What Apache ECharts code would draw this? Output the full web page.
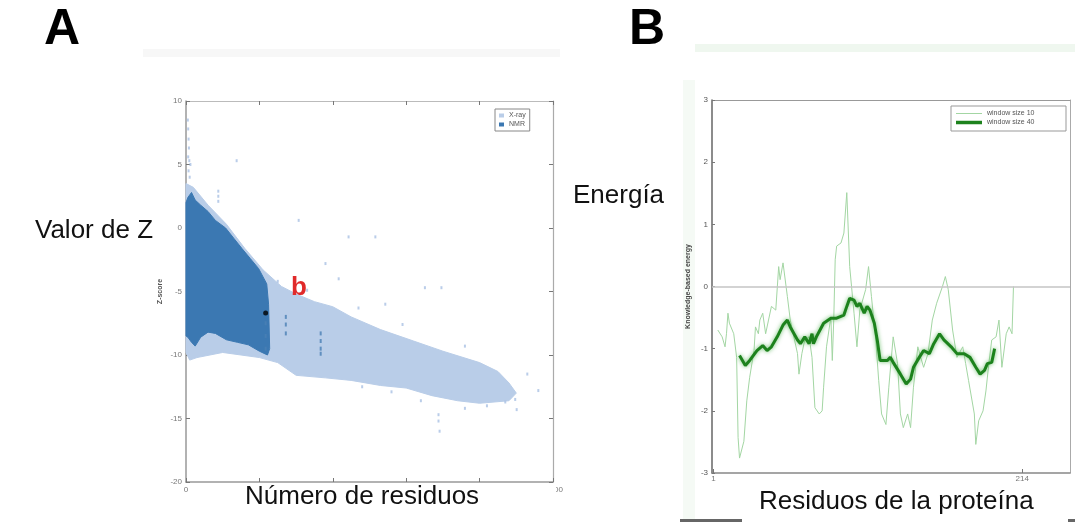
<!DOCTYPE html>
<html>
<head>
<meta charset="utf-8">
<script src="https://cdn.jsdelivr.net/npm/echarts@6/dist/echarts.min.js"></script>
<style>
html,body{margin:0;padding:0;background:#fff;}
#c{width:1075px;height:529px;}
</style>
</head>
<body>
<div id="c"></div>
<script>
// ---------- Panel A data (Z-score vs number of residues) ----------
const xAxisTicksA = [0, 200, 400, 600, 800, 1000];
const yAxisTicksA = [-20, -15, -10, -5, 0, 5, 10];
// outline of the X-ray point cloud [residues, z]
const xrayCloud = [
  [0, 3.5], [20, 3.2], [60, 1.8], [110, 0.3], [160, -1.6], [210, -3.3], [260, -4.6],
  [300, -5.2], [350, -5.8], [400, -6.2], [450, -7.0], [530, -8.0], [620, -8.9],
  [700, -9.7], [800, -10.6], [850, -11.3], [880, -12.2], [900, -13.0],
  [880, -13.6], [800, -13.8], [740, -13.6], [670, -13.2], [600, -12.6], [530, -12.4],
  [450, -12.0], [380, -11.8], [300, -11.6], [250, -10.6], [200, -10.2], [100, -9.8],
  [30, -10.2], [10, -10.4], [0, -9.8]
];
// outline of the NMR point cloud [residues, z]
const nmrCloud = [
  [0, 2.0], [5, 2.4], [15, 2.8], [25, 2.2], [40, 1.8], [60, 1.3], [80, 0.6], [108, 0.0],
  [130, -0.8], [152, -1.6], [175, -2.4], [198, -3.2], [220, -4.4], [225, -6.0],
  [228, -9.5], [222, -10.0], [200, -9.7], [170, -9.2], [140, -9.0], [110, -8.8],
  [80, -8.3], [60, -8.2], [40, -8.6], [25, -9.3], [15, -9.0], [5, -8.6], [0, -8.5]
];
// isolated X-ray points
const xrayOutliers = [
  [5, 8.5], [6, 7.8], [7, 7.0], [8, 6.3], [6, 5.6], [9, 5.3], [12, 5.0], [7, 4.5], [10, 4.0],
  [88, 2.9], [88, 2.5], [88, 2.1], [138, 5.3], [307, 0.6], [443, -0.7], [516, -0.7],
  [380, -2.8], [416, -4.0], [651, -4.7], [696, -4.7], [543, -6.0], [897, -13.5],
  [901, -14.3], [688, -14.7], [688, -15.2], [691, -16.0], [870, -13.7], [760, -14.2],
  [820, -14.0], [640, -13.6], [560, -12.9], [480, -12.5], [930, -11.5], [960, -12.8],
  [250, -4.2], [330, -4.9], [470, -6.3], [590, -7.6], [760, -9.3]
];
// isolated NMR points inside the X-ray cloud
const nmrOutliers = [
  [272, -7.0], [272, -7.6], [272, -8.3], [367, -8.3], [367, -8.9], [367, -9.5], [367, -9.9],
  [217, -7.5], [217, -8.5], [217, -9.5]
];
const queryProtein = [[217, -6.7]];

// ---------- Panel B data (energy vs residue) ----------
const residueTicksB = [1, 214];
const energyTicksB = [-3, -2, -1, 0, 1, 2, 3];
const residuesW10 = [4,7,9,10,11,12,15,17,18,19,22,24,26,29,30,32,33,35,37,39,41,44,46,47,49,52,54,56,59,60,
  62,64,67,69,71,74,76,77,79,82,83,84,85,86,89,91,93,95,98,100,102,106,108,110,113,115,117,120,122,125,
  128,130,132,135,137,139,142,144,146,149,152,155,159,161,163,166,169,173,175,177,181,182,184,187,189,191,
  193,196,198,200,203,205,207,208];
const energyW10 = [-0.70,-0.81,-0.97,-0.76,-0.43,-0.59,-0.76,-1.14,-2.43,-2.76,-2.49,-1.84,-1.46,-1.03,-0.65,
  -0.76,-0.54,-0.43,-0.76,-0.54,-0.32,-0.38,0.32,0.11,0.38,-0.16,-0.54,-0.76,-1.08,-1.41,
  -1.08,-0.86,-0.81,-1.14,-1.95,-2.05,-2.00,-1.62,-0.97,-0.49,-1.19,-0.54,0.43,0.65,0.70,0.86,1.51,0.32,-0.43,-0.97,
  -0.38,-0.05,0.32,-0.16,-0.86,-1.51,-2.05,-2.22,-1.62,-0.81,-1.24,-2.05,-2.27,-2.05,-2.27,-1.62,-0.97,-1.14,-1.30,-1.08,
  -0.54,-0.27,0.00,0.16,-0.05,-0.70,-1.14,-0.97,-1.24,-1.51,-2.05,-2.54,-2.16,-2.00,-1.68,-1.24,
  -0.86,-0.81,-0.54,-1.30,-0.76,-0.65,-0.76,0.00];
const residuesW40 = [19,23,26,31,35,38,41,45,49,52,54,59,61,64,67,69,70,72,77,82,86,91,93,95,98,100,102,105,107,109,
  112,114,116,121,123,125,130,134,137,139,143,146,150,153,157,160,165,169,174,178,182,185,188,190,193,195];
const energyW40 = [-1.11,-1.27,-1.19,-1.03,-0.95,-1.03,-0.97,-0.81,-0.62,-0.54,-0.65,-0.86,-0.92,-0.81,-0.92,-0.76,-0.92,-0.81,-0.59,-0.51,
  -0.51,-0.46,-0.32,-0.19,-0.22,-0.32,-0.27,-0.43,-0.32,-0.38,-0.59,-0.86,-1.19,-1.19,-1.14,-1.22,-1.41,-1.57,-1.49,-1.30,
  -1.14,-1.03,-1.08,-0.92,-0.76,-0.86,-0.97,-1.08,-1.08,-1.14,-1.30,-1.41,-1.35,-1.24,-1.22,-1.00];

const zip = (a, b) => a.map((v, i) => [v, b[i]]);
const FONT = '"Liberation Sans", Arial, sans-serif';
const LIGHT = '#b9cde8';
const DARK = '#3b78b2';
const THIN = '#a3d6a3';
const THICK = '#1d821d';

function polygonSeries(name, outline, color, z) {
  return {
    type: 'custom', name: name, xAxisIndex: 0, yAxisIndex: 0, z: z,
    data: [outline[0]],
    renderItem: function (params, api) {
      return {
        type: 'polygon',
        shape: { points: outline.map(p => api.coord(p)) },
        style: { fill: color, stroke: color, lineWidth: 1 }
      };
    },
    itemStyle: { color: color }
  };
}

const chart = echarts.init(document.getElementById('c'), null, { renderer: 'canvas' });
const tickStyle = { show: true, inside: true, length: 4, lineStyle: { color: '#777' } };
const legendText = { fontSize: 7, color: '#555', fontFamily: FONT };
const option = {
  animation: false,
  backgroundColor: '#fff',
  textStyle: { fontFamily: FONT },
  grid: [
    { left: 186, top: 101, width: 367, height: 381, outerBoundsMode: 'none', containLabel: false },
    { left: 712, top: 100, width: 358, height: 373, outerBoundsMode: 'none', containLabel: false }
  ],
  legend: [
    {
      left: 495, top: 109, orient: 'vertical', itemGap: 2, padding: [3, 4, 3, 4],
      borderColor: '#888', borderWidth: 1, borderRadius: 0,
      itemWidth: 5, itemHeight: 4, icon: 'rect', textStyle: legendText,
      data: [{ name: 'X-ray', itemStyle: { color: LIGHT } }, { name: 'NMR', itemStyle: { color: DARK } }]
    },
    {
      left: 956, top: 110, orient: 'vertical', padding: 0,
      itemWidth: 26, itemHeight: 1, icon: 'rect', textStyle: legendText,
      data: [{ name: 'window size 10', itemStyle: { color: THIN } }]
    },
    {
      left: 956, top: 119, orient: 'vertical', padding: 0,
      itemWidth: 26, itemHeight: 3.5, icon: 'rect', textStyle: legendText,
      data: [{ name: 'window size 40', itemStyle: { color: THICK } }]
    }
  ],
  xAxis: [
    {
      gridIndex: 0, type: 'value', min: 0, max: 1000, interval: 200, position: 'bottom',
      axisLine: { onZero: false, lineStyle: { color: '#999', width: 1.5 } },
      axisTick: tickStyle, splitLine: { show: false },
      axisLabel: { fontSize: 8, color: '#777', margin: 4 }
    },
    {
      gridIndex: 0, type: 'value', min: 0, max: 1000, interval: 200, position: 'top',
      axisLine: { onZero: false, lineStyle: { color: '#bbb', width: 1 } },
      axisTick: tickStyle, splitLine: { show: false }, axisLabel: { show: false }
    },
    {
      gridIndex: 1, type: 'value', min: 0, max: 247, position: 'bottom',
      axisLine: { onZero: false, lineStyle: { color: '#888', width: 1.5 } },
      axisTick: { show: true, inside: true, length: 4, customValues: residueTicksB, lineStyle: { color: '#777' } },
      splitLine: { show: false },
      axisLabel: { fontSize: 8, color: '#777', margin: 2, customValues: residueTicksB }
    },
    {
      gridIndex: 1, type: 'value', min: 0, max: 247, position: 'top',
      axisLine: { onZero: false, lineStyle: { color: '#999', width: 1.2 } },
      axisTick: { show: false }, splitLine: { show: false }, axisLabel: { show: false }
    }
  ],
  yAxis: [
    {
      gridIndex: 0, type: 'value', min: -20, max: 10, interval: 5, position: 'left',
      name: 'Z-score', nameLocation: 'middle', nameGap: 22, nameRotate: 90,
      nameTextStyle: { fontSize: 7, color: '#555', fontWeight: 'bold' },
      axisLine: { show: true, onZero: false, lineStyle: { color: '#999', width: 1.5 } },
      axisTick: tickStyle, splitLine: { show: false },
      axisLabel: { fontSize: 8, color: '#777', margin: 4 }
    },
    {
      gridIndex: 0, type: 'value', min: -20, max: 10, interval: 5, position: 'right',
      axisLine: { show: true, onZero: false, lineStyle: { color: '#aaa', width: 1.2 } },
      axisTick: tickStyle, splitLine: { show: false }, axisLabel: { show: false }
    },
    {
      gridIndex: 1, type: 'value', min: -3, max: 3, interval: 1, position: 'left',
      name: 'Knowledge-based energy', nameLocation: 'middle', nameGap: 20, nameRotate: 90,
      nameTextStyle: { fontSize: 7, color: '#444', fontWeight: 'bold' },
      axisLine: { show: true, onZero: false, lineStyle: { color: '#666', width: 1.5 } },
      axisTick: { show: true, inside: true, length: 3, lineStyle: { color: '#777' } },
      splitLine: { show: false },
      axisLabel: { fontSize: 8, color: '#555', margin: 4 }
    },
    {
      gridIndex: 1, type: 'value', min: -3, max: 3, interval: 1, position: 'right',
      axisLine: { show: true, onZero: false, lineStyle: { color: '#aaa', width: 1 } },
      axisTick: { show: false }, splitLine: { show: false }, axisLabel: { show: false }
    }
  ],
  series: [
    polygonSeries('X-ray', xrayCloud, LIGHT, 1),
    polygonSeries('NMR', nmrCloud, DARK, 2),
    {
      type: 'scatter', name: 'X-ray', xAxisIndex: 0, yAxisIndex: 0, z: 3,
      symbol: 'rect', symbolSize: [2, 3], data: xrayOutliers,
      itemStyle: { color: '#a9c1e3' }
    },
    {
      type: 'scatter', name: 'NMR', xAxisIndex: 0, yAxisIndex: 0, z: 4,
      symbol: 'rect', symbolSize: [2, 4], data: nmrOutliers,
      itemStyle: { color: '#4a7fb4' }
    },
    {
      type: 'scatter', name: 'query', xAxisIndex: 0, yAxisIndex: 0, z: 5,
      symbol: 'circle', symbolSize: 5, data: queryProtein,
      itemStyle: { color: '#000' }
    },
    {
      type: 'line', name: 'window size 10', xAxisIndex: 2, yAxisIndex: 2, z: 3,
      data: zip(residuesW10, energyW10), symbol: 'none', smooth: false,
      lineStyle: { color: THIN, width: 1 }, itemStyle: { color: THIN },
      markLine: {
        silent: true, symbol: ['none', 'none'], label: { show: false },
        lineStyle: { color: '#c4c4c4', width: 1.5, type: 'solid' },
        data: [{ yAxis: 0 }]
      }
    },
    {
      type: 'line', name: 'window size 40', xAxisIndex: 2, yAxisIndex: 2, z: 4,
      data: zip(residuesW40, energyW40), symbol: 'none', smooth: false,
      lineStyle: { color: THICK, width: 3, shadowColor: 'rgba(60,170,60,0.75)', shadowBlur: 4 },
      itemStyle: { color: THICK }
    }
  ],
  graphic: [
    // faint frame fragments of the original composite
    { type: 'rect', shape: { x: 143, y: 49, width: 417, height: 8 }, style: { fill: '#f7f7f7' }, z: -1 },
    { type: 'rect', shape: { x: 695, y: 44, width: 380, height: 8 }, style: { fill: '#eff7ef' }, z: -1 },
    { type: 'rect', shape: { x: 683, y: 80, width: 12, height: 440 }, style: { fill: '#f5faf5' }, z: -1 },
    { type: 'rect', shape: { x: 680, y: 519, width: 395, height: 3 }, style: { fill: '#666' }, z: 10 },
    // legend frame for panel B
    { type: 'rect', shape: { x: 951, y: 106, width: 115, height: 25 }, style: { fill: 'none', stroke: '#999', lineWidth: 1 }, z: 15 },
    // white label boxes
    { type: 'rect', shape: { x: 227, y: 484, width: 329, height: 45 }, style: { fill: '#fff' }, z: 20 },
    { type: 'rect', shape: { x: 742, y: 482, width: 326, height: 47 }, style: { fill: '#fff' }, z: 20 },
    // texts
    { type: 'text', z: 30, style: { text: 'A', x: 62, y: 30, align: 'center', verticalAlign: 'middle', font: 'bold 50px ' + FONT, fill: '#000' } },
    { type: 'text', z: 30, style: { text: 'B', x: 647, y: 30, align: 'center', verticalAlign: 'middle', font: 'bold 50px ' + FONT, fill: '#000' } },
    { type: 'text', z: 30, style: { text: 'Valor de Z', x: 35, y: 231, align: 'left', verticalAlign: 'middle', font: '26px ' + FONT, fill: '#111' } },
    { type: 'text', z: 30, style: { text: 'Energía', x: 573, y: 196, align: 'left', verticalAlign: 'middle', font: '26px ' + FONT, fill: '#111' } },
    { type: 'text', z: 30, style: { text: 'Número de residuos', x: 245, y: 497, align: 'left', verticalAlign: 'middle', font: '26px ' + FONT, fill: '#111' } },
    { type: 'text', z: 30, style: { text: 'Residuos de la proteína', x: 759, y: 502, align: 'left', verticalAlign: 'middle', font: '26px ' + FONT, fill: '#111' } },
    { type: 'text', z: 30, style: { text: 'b', x: 299, y: 288, align: 'center', verticalAlign: 'middle', font: 'bold 26px ' + FONT, fill: '#e02a2a' } }
  ]
};
chart.setOption(option);
</script>
</body>
</html>
